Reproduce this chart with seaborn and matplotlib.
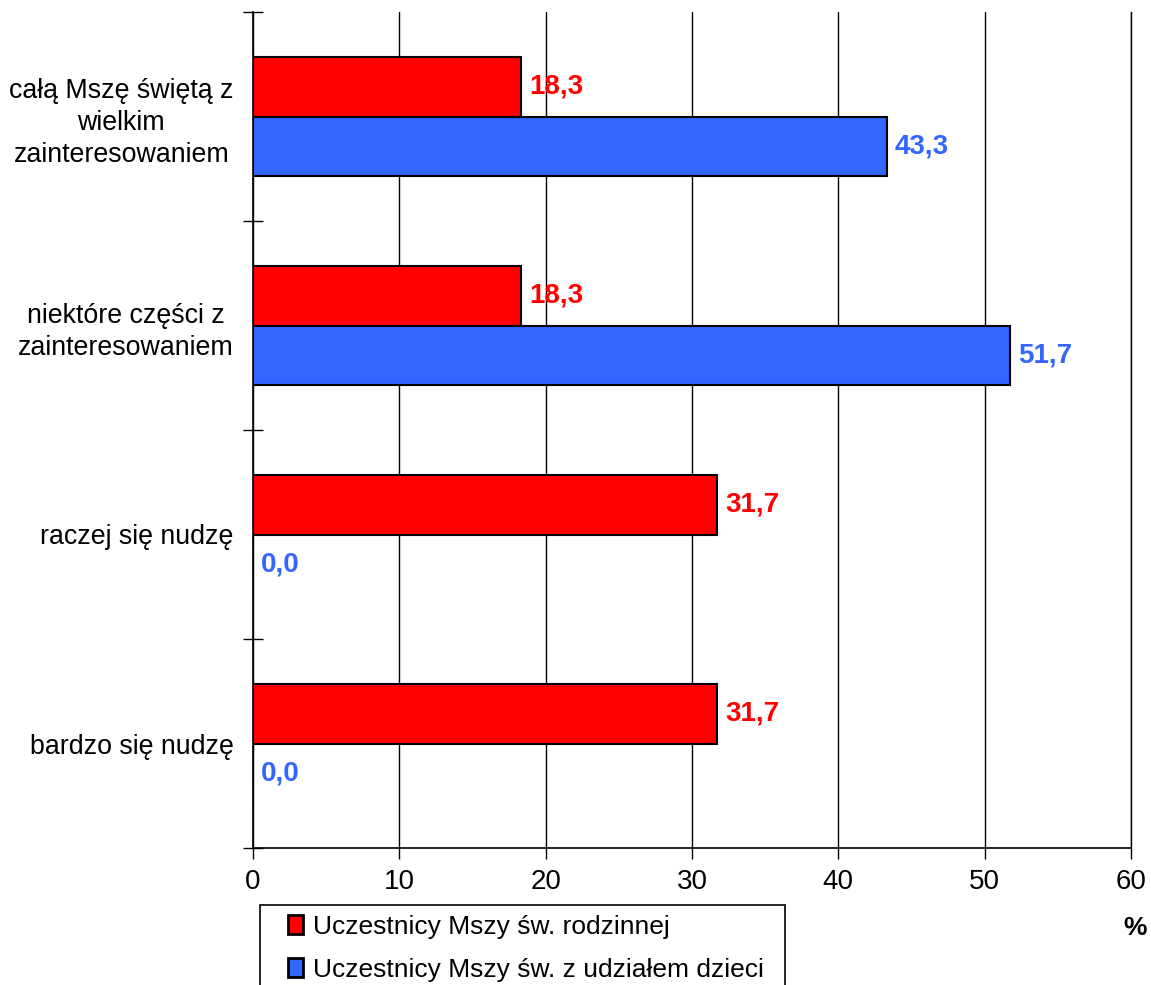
import pandas as pd
import numpy as np
import matplotlib
matplotlib.use('Agg')
import matplotlib.pyplot as plt
from matplotlib.patches import Rectangle
from matplotlib.ticker import FixedLocator
import seaborn as sns

# Dane z wykresu
categories = [
    'całą Mszę świętą z\nwielkim\nzainteresowaniem',
    'niektóre części z\nzainteresowaniem',
    'raczej się nudzę',
    'bardzo się nudzę',
]
series_names = ['Uczestnicy Mszy św. rodzinnej', 'Uczestnicy Mszy św. z udziałem dzieci']
rodzinna = [18.3, 18.3, 31.7, 31.7]
z_dziecmi = [43.3, 51.7, 0.0, 0.0]
x_ticks = [0, 10, 20, 30, 40, 50, 60]
colors = ['#FF0000', '#3366FF']

df = pd.DataFrame({
    'kategoria': categories * 2,
    'seria': [series_names[0]] * 4 + [series_names[1]] * 4,
    'procent': rodzinna + z_dziecmi,
})

sns.set_style('white')
plt.rcParams['font.family'] = ['Liberation Sans', 'DejaVu Sans']
plt.rcParams['text.color'] = 'black'
plt.rcParams['xtick.color'] = 'black'
plt.rcParams['ytick.color'] = 'black'
plt.rcParams['axes.labelcolor'] = 'black'

fig = plt.figure(figsize=(11.51, 9.85), dpi=100)
ax = fig.add_axes([253 / 1151, 1 - 848 / 985, (1131 - 253) / 1151, (848 - 12) / 985])

sns.barplot(data=df, x='procent', y='kategoria', hue='seria', order=categories,
            hue_order=series_names, palette=colors, saturation=1, edgecolor='black',
            linewidth=1.5, width=0.574, orient='h', ax=ax, legend=True)

# etykiety wartosci
for cont, col in zip(ax.containers, colors):
    labels = [f'{v:.1f}'.replace('.', ',') for v in cont.datavalues]
    ax.bar_label(cont, labels=labels, padding=6, color=col, fontsize=20,
                 fontweight='bold')

ax.set_xlim(0, 60)
ax.set_ylim(3.5, -0.5)
ax.set_xticks(x_ticks)
ax.set_xticklabels([str(t) for t in x_ticks], fontsize=20)
ax.grid(axis='x', color='black', linewidth=1)
ax.set_axisbelow(True)
ax.tick_params(axis='x', bottom=True, direction='out', length=8, width=1, color='black', pad=7)

ax.set_yticks(range(len(categories)))
ax.set_yticklabels(categories, fontsize=19.3, multialignment='center', linespacing=1.3)
ax.tick_params(axis='y', which='major', left=True, length=0, pad=14)
ax.yaxis.set_minor_locator(FixedLocator([-0.5, 0.5, 1.5, 2.5, 3.5]))
ax.tick_params(axis='y', which='minor', left=True, direction='inout', length=14, width=1, color='black')

ax.spines['top'].set_visible(False)
ax.spines['right'].set_color('black')
ax.spines['right'].set_linewidth(1)
for s in ['left', 'bottom']:
    ax.spines[s].set_color('black')
    ax.spines[s].set_linewidth(1.2)
ax.set_xlabel('')
ax.set_ylabel('')

# legenda
handles, labels = ax.get_legend_handles_labels()
ax.get_legend().remove()
for h in handles:
    h.set_linewidth(2)
fig.legend(handles, labels, loc='upper left',
           bbox_to_anchor=(288 / 1151, 1 - 915 / 985), frameon=False,
           fontsize=19, handlelength=0.55, handleheight=0.75, handletextpad=0.4,
           labelspacing=0.72, borderpad=0.0, borderaxespad=0.0)
fig.patches.append(Rectangle((260 / 1151, -0.02), (785 - 260) / 1151, 0.02 + (985 - 905) / 985,
                             transform=fig.transFigure, fill=False, edgecolor='black',
                             linewidth=1.2))

fig.text(1135 / 1151, 1 - 928 / 985, '%', fontsize=19, fontweight='bold',
         ha='center', va='center')

fig.savefig('out.png', dpi=100)
